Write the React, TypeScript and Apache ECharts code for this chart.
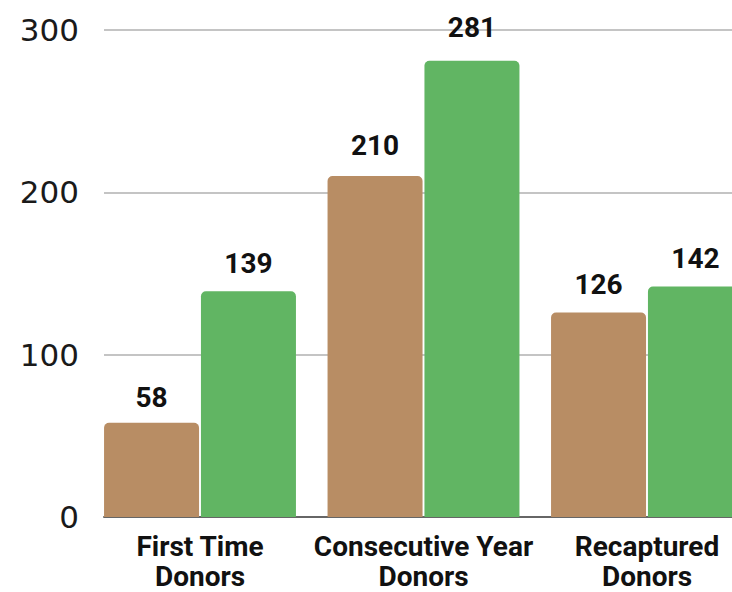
import React, { useEffect, useRef } from "react";
import * as echarts from "echarts";

const categories = ["First Time\nDonors", "Consecutive Year\nDonors", "Recaptured\nDonors"];
const seriesA = [58, 210, 126];
const seriesB = [139, 281, 142];
const yTicks = [0, 100, 200, 300];

// label gap above each bar grows slightly with bar height, as in the reference
const withLabelGap = (vals: number[]) =>
  vals.map((v) => ({ value: v, label: { distance: 11 + 0.038 * (v - 58) } }));

export default function App() {
  const ref = useRef<HTMLDivElement>(null);
  useEffect(() => {
    const chart = echarts.init(ref.current!, null, { renderer: "svg" });
    const labelStyle = {
      show: true,
      position: "top" as const,
      fontFamily: "Roboto",
      fontWeight: "bold" as const,
      fontSize: 28,
      color: "#111111",
    };
    chart.setOption({
      animation: false,
      grid: [
        { left: 104, width: 660, top: 30, bottom: 75, outerBoundsMode: "none", containLabel: false },
        { left: 88.25, width: 670.5, top: 30, bottom: 75, outerBoundsMode: "none", containLabel: false },
      ],
      xAxis: [
        {
          type: "category",
          gridIndex: 0,
          data: categories,
          axisLine: { show: true, lineStyle: { color: "#666666", width: 2 } },
          axisTick: { show: false },
          axisLabel: { show: false },
        },
        {
          type: "category",
          gridIndex: 1,
          data: categories,
          axisLine: { show: false },
          axisTick: { show: false },
          axisLabel: {
            interval: 0,
            margin: 14,
            fontFamily: "Roboto",
            fontWeight: "bold",
            fontSize: 28,
            lineHeight: 30,
            color: "#111111",
          },
        },
      ],
      yAxis: [
        {
          type: "value",
          gridIndex: 0,
          min: yTicks[0],
          max: yTicks[yTicks.length - 1],
          interval: 100,
          axisLine: { show: false },
          axisTick: { show: false },
          axisLabel: {
            margin: 25,
            fontFamily: "DejaVu Sans",
            fontSize: 31,
            color: "#1a1a1a",
          },
          splitLine: { lineStyle: { color: "#c4c4c4", width: 2 } },
        },
        {
          type: "value",
          gridIndex: 1,
          min: yTicks[0],
          max: yTicks[yTicks.length - 1],
          interval: 100,
          show: false,
          splitLine: { show: false },
        },
      ],
      series: [
        {
          type: "bar",
          xAxisIndex: 1,
          yAxisIndex: 1,
          data: withLabelGap(seriesA),
          barWidth: 95,
          barGap: "2%",
          itemStyle: { color: "#b88d64", borderRadius: [5, 5, 0, 0] },
          label: labelStyle,
        },
        {
          type: "bar",
          xAxisIndex: 1,
          yAxisIndex: 1,
          data: withLabelGap(seriesB),
          barWidth: 95,
          barGap: "2%",
          itemStyle: { color: "#61b563", borderRadius: [5, 5, 0, 0] },
          label: labelStyle,
        },
      ],
    });
    return () => chart.dispose();
  }, []);
  return (
    <div
      ref={ref}
      style={{ position: "fixed", left: 0, top: 0, width: 732, height: 592, background: "#ffffff" }}
    />
  );
}
